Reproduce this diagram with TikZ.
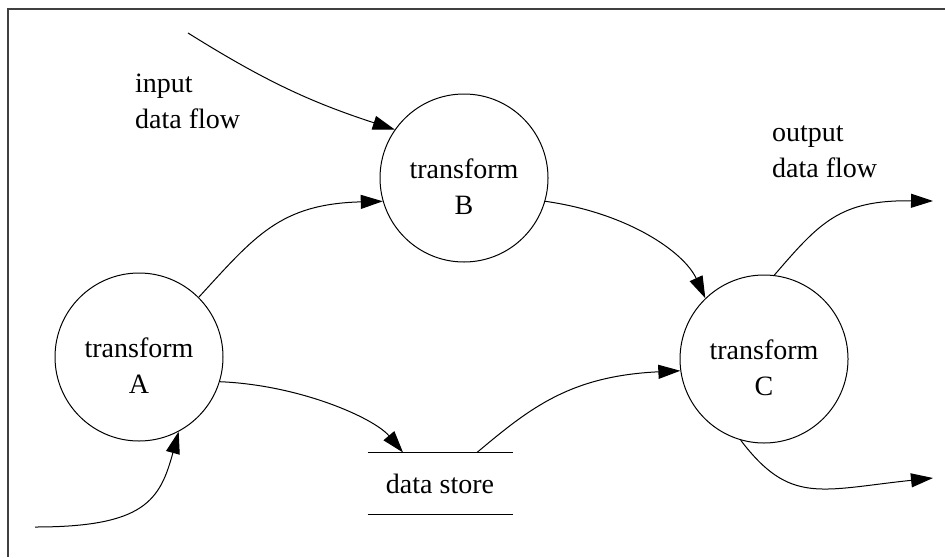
\documentclass[tikz,border=0pt]{standalone}
\usepackage{fontspec}
\setmainfont{Liberation Serif}
\usetikzlibrary{arrows.meta, positioning}

\begin{document}
\begin{tikzpicture}[x=0.5pt, y=0.5pt, line width=0.5pt,
  every node/.style={font=\fontsize{14}{18}\selectfont},
  proc/.style={circle, draw, minimum size=84pt, inner sep=0pt, align=center,
    text height=36pt, text depth=0pt},
  flow/.style={-{Triangle[length=11pt,width=7pt]}}]
\useasboundingbox (0,0) rectangle (945,-557);
% frame
\draw[line width=0.7pt, black!75] (8,-557) -- (8,-9) -- (945,-9);

% transforms
\node[proc] (A) at (139,-357) {transform\\A};
\node[proc] (B) at (464,-178) {transform\\B};
\node[proc] (C) at (764,-359) {transform\\C};

% data store
\node[minimum width=72pt, minimum height=30.5pt] (store) at (440,-483.5) {data store};
\draw (store.north west) -- (store.north east);
\draw (store.south west) -- (store.south east);

% labels
\node[anchor=base west, align=left] (inlbl) at (128,-128) {input\\data flow};
\node[anchor=base west, align=left] (outlbl) at (765,-177) {output\\data flow};

% free ends
\coordinate (in1) at (188,-33);
\coordinate (in2) at (35,-527);
\coordinate (out1) at (933,-201);
\coordinate (out2) at (933,-478);

% flows
\draw[flow] (in1) to[out=-32, in=162] (B.145);
\draw[flow] (A.45) .. controls (255,-236) and (280,-204) .. (B.196);
\draw[flow] (B.-16) .. controls (628,-213) and (684,-252) .. (C.134);
\draw[flow] (A.-17) .. controls (300,-385) and (374,-418) .. (store.140);
\draw[flow] (store.40) .. controls (530,-408) and (570,-376) .. (C.188);
\draw[flow] (in2) .. controls (145,-527) and (160,-500) .. (A.-62);
\draw[flow] (C.83) .. controls (820,-222) and (840,-200) .. (out1);
\draw[flow] (C.-106) .. controls (790,-505) and (820,-490) .. (out2);
\end{tikzpicture}
\end{document}
